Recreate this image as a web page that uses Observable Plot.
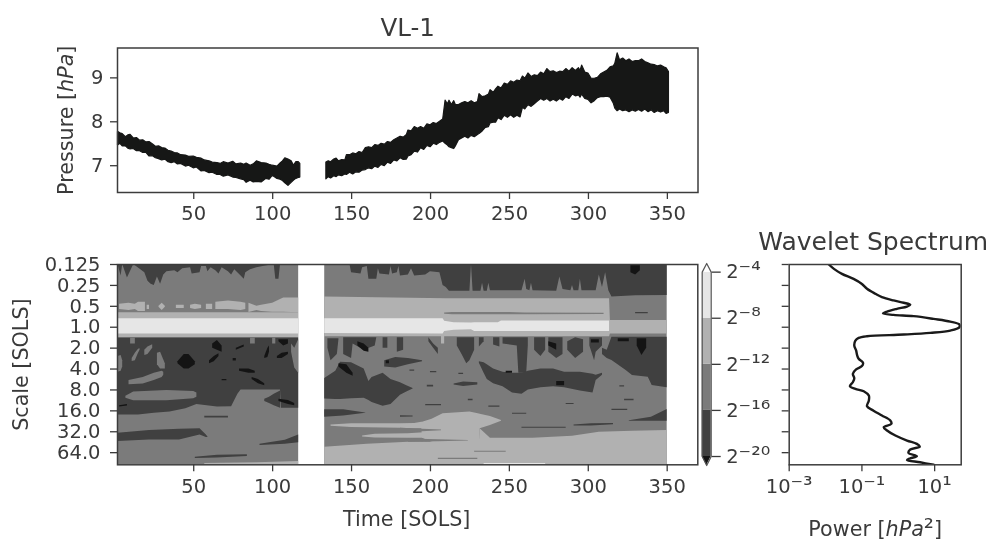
<!DOCTYPE html>
<html><head><meta charset="utf-8">
<script src="https://cdn.jsdelivr.net/npm/d3@7"></script>
<script src="https://cdn.jsdelivr.net/npm/@observablehq/plot@0.6"></script>
<style>
html,body{margin:0;padding:0;background:#fff}
#chart{position:relative;width:990px;height:541px;overflow:hidden;filter:blur(0.45px)}
#chart svg{position:absolute;background:transparent}
</style></head><body><div id="chart"></div>
<script>
const title="VL-1", spectrumTitle="Wavelet Spectrum";
const solTicks=[50,100,150,200,250,300,350];
const pressureTicks=[7,8,9];
const scaleTicks=[0.125,0.25,0.5,1,2,4,8,16,32,64];
const scaleLabels=["0.125","0.25","0.5","1.0","2.0","4.0","8.0","16.0","32.0","64.0"];
const shades=["#141414","#404040","#7b7b7b","#b1b1b1","#e6e6e6"];
const colorbarStops=[-20,-16,-12,-8,-4];
const colorbarLabels=["2⁻²⁰","2⁻¹⁶","2⁻¹²","2⁻⁸","2⁻⁴"];
const powerTicks=[1e-3,1e-1,1e1];
const powerLabels=["10⁻³","10⁻¹","10¹"];

// pressure envelope: [sol, high, low]
const pressureA=[[2,7.77,7.46],[3.5,7.74,7.50],[5,7.72,7.44],[7,7.65,7.44],[8.5,7.69,7.39],[10,7.70,7.37],[12,7.62,7.38],[14,7.63,7.33],[16,7.57,7.33],[18,7.58,7.29],[20,7.53,7.29],[22,7.54,7.21],[24,7.49,7.22],[26,7.43,7.17],[28,7.44,7.15],[30,7.40,7.12],[32,7.39,7.14],[34,7.34,7.08],[36,7.32,7.06],[38,7.29,7.08],[40,7.28,7.03],[42,7.24,7.04],[45,7.23,6.98],[47,7.20,7.00],[50,7.21,6.94],[52,7.18,6.96],[55,7.16,6.87],[57,7.12,6.88],[60,7.10,6.83],[62,7.07,6.84],[65,7.06,6.79],[67,7.04,6.79],[69,7.08,6.75],[72,7.05,6.78],[75,7.09,6.73],[77,7.03,6.72],[80,7.05,6.69],[82,7.02,6.67],[83.5,7.05,6.61],[86,7.00,6.66],[88,7.03,6.62],[90,7.10,6.63],[93,7.06,6.62],[96,7.05,6.70],[98,7.02,6.68],[100,7.00,6.77],[103,6.98,6.70],[105,7.05,6.68],[106.5,7.10,6.65],[108,7.17,6.60],[110,7.14,6.54],[112,7.10,6.61],[113.5,7.00,6.66],[115,7.08,6.70],[116.5,7.08,6.72],[117.5,7.04,6.73]];
const pressureB=[[134,7.07,6.69],[135.5,7.10,6.74],[137,7.08,6.71],[139,7.14,6.76],[140.5,7.16,6.74],[142,7.10,6.78],[144,7.13,6.76],[146,7.12,6.80],[147,7.24,6.79],[149,7.24,6.84],[151,7.28,6.80],[153,7.26,6.85],[155,7.31,6.84],[157,7.29,6.89],[159,7.40,6.90],[161,7.42,6.94],[163,7.40,6.92],[165,7.47,6.98],[167,7.45,6.95],[169,7.50,7.02],[171,7.48,6.99],[173,7.54,7.07],[175,7.52,7.04],[177,7.58,7.12],[179,7.62,7.10],[181,7.66,7.17],[183,7.64,7.13],[185,7.70,7.14],[186,7.80,7.21],[188,7.78,7.24],[190,7.88,7.32],[192,7.84,7.30],[194,7.88,7.40],[196,7.84,7.36],[198,7.94,7.45],[200,7.92,7.42],[202,7.97,7.50],[204,7.95,7.47],[206,8.0,7.52],[208,8.05,7.55],[209.5,8.48,7.50],[211,8.40,7.46],[212,8.48,7.42],[213.5,8.38,7.40],[215,8.47,7.38],[216,8.38,7.44],[218,8.38,7.58],[220,8.42,7.62],[222,8.45,7.66],[224,8.42,7.62],[226,8.47,7.68],[228,8.42,7.65],[230,8.45,7.70],[231,8.63,7.72],[233,8.56,7.78],[235,8.58,7.86],[237,8.62,7.88],[238,8.72,7.96],[240,8.66,7.98],[241.5,8.74,7.98],[243,8.80,8.08],[245,8.76,8.04],[247,8.87,8.14],[249,8.84,8.09],[251,8.92,8.15],[253,8.89,8.09],[255,8.94,8.14],[257,8.92,8.10],[258.5,9.03,8.32],[260,8.98,8.28],[262,9.10,8.38],[264,9.02,8.34],[266,9.06,8.40],[268,9.04,8.46],[270,9.12,8.52],[272,9.08,8.48],[274,9.20,8.52],[276,9.13,8.46],[278,9.15,8.50],[280,9.11,8.46],[282,9.14,8.52],[284,9.13,8.48],[286,9.20,8.56],[288,9.14,8.52],[290,9.22,8.62],[292,9.16,8.58],[294,9.22,8.60],[295,9.16,8.55],[296,9.28,8.62],[298,9.12,8.52],[300,9.10,8.50],[302,8.98,8.42],[304,8.98,8.47],[306,9.0,8.54],[308,9.08,8.56],[310,9.12,8.56],[312,9.16,8.57],[314,9.24,8.55],[316,9.26,8.42],[317,9.32,8.30],[318.5,9.56,8.24],[320,9.40,8.28],[322,9.44,8.24],[324,9.38,8.26],[326,9.42,8.22],[328,9.36,8.26],[330,9.38,8.23],[332,9.38,8.27],[334,9.42,8.23],[336,9.36,8.28],[338,9.33,8.22],[340,9.30,8.26],[342,9.29,8.20],[344,9.26,8.24],[346,9.28,8.21],[348,9.24,8.24],[349.5,9.22,8.18],[351,9.13,8.20]];

// global spectrum: log2 scale and log10 power
const spectrumLog2=[-3,-2.79,-2.55,-2.31,-2.07,-1.84,-1.60,-1.44,-1.28,-1.17,-1.07,-0.99,-0.88,-0.75,-0.66,-0.59,-0.53,-0.40,-0.27,-0.13,0,0.16,0.27,0.35,0.43,0.51,0.64,0.88,1.11,1.35,1.51,1.70,1.86,2.02,2.23,2.44,2.63,2.82,2.95,3.06,3.27,3.51,3.78,3.99,4.22,4.46,4.62,4.78,4.94,5.18,5.42,5.58,5.71,5.85,6.01,6.17,6.27,6.35,6.46,6.58];
const spectrumLog10=[-1.91,-1.77,-1.55,-1.23,-1.00,-.86,-.63,-.45,-.13,.15,.33,.24,-.04,-.31,-.42,-.13,.42,.97,1.43,1.68,1.68,1.43,.88,.15,-.86,-1.09,-1.18,-1.21,-1.16,-1.13,-1.09,-.97,-1.0,-1.16,-1.25,-1.21,-1.25,-1.33,-1.18,-.95,-.81,-.81,-.86,-.68,-.45,-.22,-.19,-.40,-.31,-.08,.24,.51,.59,.33,.28,.51,.33,.24,.60,.97];

// wavelet power regions, painted in order: [level, [[sol, log2 scale top, log2 scale bottom], ...]]
const regionsLeft=[
[2,[[2,-3,6.58],[116.5,-3,6.58]]],
[1,[[2,-3,-3],[4,-3,-2.45],[5,-3,-3],[8,-3,-2.35],[12,-3,-3],[19,-3,-2.6],[21,-3,-2.2],[23,-3,-2.05],[25,-3,-2.0],[27,-3,-2.4],[29,-3,-2.05],[31,-3,-2.5],[33,-3,-2.65],[38,-3,-2.7],[40,-3,-2.6],[43,-3,-2.8],[48,-3,-2.85],[49,-3,-2.55],[54,-3,-2.6],[55,-3,-2.9],[58,-3,-2.9],[59,-3,-2.65],[61,-3,-2.85],[64,-3,-2.7],[66,-3,-2.55],[68,-3,-2.85],[72,-3,-2.65],[74,-3,-2.5],[76,-3,-2.75],[80,-3,-2.45],[82,-3,-2.3],[83,-3,-2.6],[86,-3,-2.75],[90,-3,-2.85],[94,-3,-2.9],[101,-3,-3],[102,-3,-2.3],[104,-3,-2.3],[105,-3,-3]]],
[3,[[3,-1.1,-.85],[9,-1.15,-.8],[13,-1.1,-.85],[15,-1.2,-.75],[19.4,-1.2,-.75]]],
[3,[[20.5,-1.05,-.85],[22,-1.05,-.85]]],
[3,[[28,-1,-.95],[30,-1.15,-.8],[32,-1,-.95]]],
[3,[[39,-1.05,-.9],[44,-1.05,-.9]]],
[3,[[48,-1.05,-.9],[51,-1.1,-.85],[55,-1.05,-.9]]],
[3,[[58,-1.1,-.85],[62,-1.1,-.85]]],
[3,[[64,-1.2,-.85],[72,-1.25,-.85],[80,-1.2,-.8],[83,-1.15,-.85]]],
[3,[[85,-1.15,-.7],[90,-1,-.8],[93,-1.05,-.75],[100,-1.15,-.72],[107,-1.4,-.72],[116.5,-1.4,-.69]]],
[3,[[2,-.69,.52],[116.5,-.69,.52]]],
[4,[[2,-.4,.32],[116.5,-.4,.32]]],
[1,[[2,.52,4.2],[15,.52,4.2],[25,.52,4.12],[35,.52,4.05],[45,.52,3.9],[52,.52,3.7],[65,.52,3.82],[74,.52,3.8],[76,.52,3.5],[78,.52,3.2],[80,.52,3],[105,.52,3],[105.5,.52,3.87],[116.5,.52,3.87]]],
[1,[[95,3.45,3.55],[98,3.35,3.65],[101,3.2,3.75],[105,3.05,3.87]]],
[2,[[2,1.4,2.15],[4,1.35,2.1],[5,1.6,1.9]]],
[2,[[11,1.5,1.64],[13,1.25,1.6],[15,1.05,1.25],[16,1.03,1.1]]],
[2,[[19,1.1,1.35],[21,.95,1.3],[24,.84,1.0]]],
[2,[[27,1.25,1.8],[29,1.2,2],[32,1.75,2]]],
[2,[[9,2.55,2.75],[18,2.4,2.72],[25,2.2,2.55],[30,2.1,2.4],[31,2.15,2.3]]],
[2,[[7,3.3,3.4],[12,3.1,3.52],[33,3.03,3.52],[50,3.07,3.42],[52,3.15,3.35]]],
[2,[[10,.52,.8],[13,.52,.8]]],
[2,[[86,.52,.8],[89,.52,.8]]],
[2,[[100,.52,.8],[102,.52,.8]]],
[2,[[112,.8,1.2],[114,1,1.95],[116.5,.6,2.2]]],
[0,[[40,1.65,1.75],[44,1.3,2],[47,1.3,2],[51,1.65,1.8]]],
[0,[[62,.8,1],[65,.64,1.1],[68,.9,1.2]]],
[0,[[60,1.6,1.75],[63,1.4,1.65],[66,1.27,1.4]]],
[0,[[77,1,1.1],[82,.85,.95]]],
[0,[[95,1.4,1.5],[97,1,1.45],[98,.9,1.2]]],
[0,[[104,.6,.7],[107,.6,.9],[110,.6,.8]]],
[0,[[103,1.4,1.5],[106,1.25,1.5],[110,1.2,1.3]]],
[0,[[79,2,2.1],[85,2,2.2],[89,2.1,2.2]]],
[0,[[87,2.4,2.5],[91,2.5,2.7],[95,2.7,2.8]]],
[0,[[104,3.45,3.55],[110,3.5,3.7],[114,3.65,3.75]]],
[0,[[3,3.75,3.82],[8,3.7,3.77]]],
[0,[[68,2.5,2.56],[71,2.5,2.56]]],
[0,[[75,1.5,1.62],[77,1.5,1.62]]],
[1,[[57,4.26,4.34],[72,4.26,4.34]]],
[1,[[2,5.07,5.47],[22,4.94,5.39],[41,4.88,5.39],[54,4.86,5.15],[58,5.15,5.27],[59,5.25,5.27]]],
[1,[[92,5.6,5.66],[108,5.4,5.6],[116.5,5.15,5.53]]],
[1,[[51,6.22,6.28],[65,6.12,6.25],[84,6.1,6.18]]],
[3,[[57,6.52,6.58],[90,6.48,6.58],[116.5,6.42,6.58]]]
];
const regionsRight=[
[2,[[133,-3,6.58],[350,-3,6.58]]],
[3,[[133,5.74,6.58],[160,5.6,6.58],[186,5.5,6.58],[231,5.5,6.58],[231.5,4.86,6.58],[238,5.31,6.58],[265,5.31,6.58],[290,5.21,6.58],[307,5.02,6.58],[328,4.97,6.58],[350,4.94,6.58]]],
[3,[[137,4.68,4.74],[150,4.62,4.8],[181,4.62,4.83],[190,4.6,4.85],[194.5,4.55,4.85],[195,4.55,5.31],[201,4.4,5.5],[208,4.14,5.6],[225,4.06,5.6],[231,4.15,5.6],[231.5,4.16,4.86],[238,4.27,4.7],[245,4.46,4.5]]],
[3,[[157,5.2,5.25],[165,5.12,5.3],[186,5.1,5.31],[196,5.05,5.31]]],
[2,[[181,4.83,5.05],[195,4.88,5],[207,4.92,4.95]]],
[2,[[186,5.35,5.5],[205,5.38,5.48],[224,5.42,5.44]]],
[2,[[228,5.93,5.98],[248,5.93,5.98]]],
[2,[[205,6.27,6.33],[230,6.27,6.33]]],
[4,[[234,6.52,6.58],[273,6.52,6.58]]],
[1,[[133,-3,-3],[149,-3,-3],[150,-3,-2.6],[156,-3,-2.55],[157,-3,-2.85],[160,-3,-2.9],[161,-3,-2.3],[166,-3,-2.3],[167,-3,-2.8],[168,-3,-2.55],[174,-3,-2.5],[175,-3,-2.9],[176,-3,-2.55],[179,-3,-2.6],[180,-3,-2.9],[181,-3,-2.45],[186,-3,-2.5],[188,-3,-2.8],[190,-3,-2.45],[197,-3,-2.5],[200,-3,-2.65],[206,-3,-2.6],[208,-3,-2],[210,-3,-1.9],[212,-3,-1.72],[225,-3,-1.72],[226,-3,-3],[227,-3,-1.72],[232,-3,-1.72],[233,-3,-2.1],[234,-3,-1.72],[236,-3,-1.72],[237,-3,-2.1],[238,-3,-1.75],[258,-3,-1.75],[260,-3,-2.3],[261,-3,-1.8],[263,-3,-1.75],[264,-3,-2.1],[265,-3,-1.75],[280,-3,-1.72],[282,-3,-2.4],[284,-3,-1.8],[289,-3,-1.75],[290,-3,-2],[291,-3,-1.75],[294,-3,-1.75],[295,-3,-2.3],[296,-3,-1.75],[305,-3,-1.75],[307,-3,-2.5],[309,-3,-1.9],[311,-3,-2.6],[313,-3,-1.75],[315,-3,-1.44],[330,-3,-1.5],[350,-3,-1.52]]],
[0,[[327,-3,-2.6],[330,-3,-2.5],[333,-3,-2.7]]],
[3,[[133,-1.44,.45],[210,-1.36,.45],[313.5,-1.36,.45],[314,-.32,.32],[350,-.32,.32]]],
[3,[[207,.4,.8],[209,.4,.8]]],
[2,[[209,-.68,-.62],[214,-.7,-.6],[250,-.7,-.6],[260,-.68,-.6],[310,-.67,-.61]]],
[1,[[330,-.7,-.65],[338,-.71,-.64]]],
[4,[[133,-.4,.3],[208,-.4,.32],[209,-.28,.2],[215,-.22,.15],[226,-.2,.12],[228,-.22,.2],[243,-.22,.2],[245,-.3,.2],[313.5,-.3,.2]]],
[1,[[133,2.45,3.43],[140,2.1,3.46],[143,1.67,3.46],[150,1.7,3.42],[158,2,3.4],[161,2.6,3.5],[163,2.4,3.6],[170,2.2,3.78],[175,2.5,3.7],[181,2.65,3.25],[185,2.8,3.1],[189,2.93,2.95]]],
[1,[[135,.55,1],[137,.55,1.6],[141,.55,1.3],[142,.55,.6]]],
[1,[[145,.5,1.3],[150,.5,1.5],[151,.5,.8],[158,.5,1.1],[165,.5,.9],[166,.5,.5]]],
[0,[[154,.7,.9],[158,.8,1.15],[161,1,1.2]]],
[0,[[142,1.75,1.9],[147,1.8,2.2],[151,2.2,2.35]]],
[1,[[170,.5,1],[173,.5,1]]],
[1,[[179,.5,1.2],[183,.5,1.1]]],
[1,[[171,1.6,1.9],[178,1.45,1.95],[186,1.5,1.8],[195,1.6,1.65]]],
[0,[[172,1.6,1.75],[174,1.6,1.75]]],
[1,[[199,.5,.7],[202,.8,1],[205,1,1.3]]],
[1,[[217,.5,.9],[220,.5,1.3],[223,.5,1.75],[225,.5,1.6],[228,.5,1.1]]],
[1,[[231,.5,.95],[234,.5,.7]]],
[1,[[240,.5,.85],[244,.5,.95]]],
[1,[[246,.5,.8],[255,.5,.9],[256,.5,2.2],[261,.5,2.2],[262,.5,.9]]],
[1,[[266,.5,1.1],[270,.5,1.4],[273,.5,1.1]]],
[1,[[275,.5,1.2],[280,.5,1.5],[284,.5,1.3]]],
[1,[[287,.7,1.1],[292,.5,1.5],[297,.6,1.2]]],
[1,[[301,.5,.9],[304,.5,1.6],[305,.5,1.2],[309,.5,.9]]],
[1,[[231,1.65,1.72],[234,1.7,2.2],[236,1.8,2.5],[240,2,2.7],[246,2.15,2.85],[252,2.2,3.15],[258,2.2,3.2],[262,2.1,3],[270,2,2.9],[278,2,2.85],[285,2.15,2.9],[295,2.15,3.05],[303,2.25,3.15],[305,2.3,2.55],[309,2.2,2.3]]],
[1,[[309,1,1.3],[312,1.1,1.5],[315,.48,1.59],[324,.48,2.07],[328,.48,2.31],[338,.48,2.39],[340.5,.48,2.79],[350,.48,2.9]]],
[0,[[319,.55,.7],[326,.55,.7]]],
[0,[[331,.55,.9],[334,.55,1.35],[337,.55,1]]],
[0,[[275,.7,.9],[280,.8,1.1]]],
[0,[[302,.6,.75],[307,.6,.75]]],
[0,[[248,2.1,2.2],[252,2.1,2.2]]],
[0,[[280,2.6,2.8],[285,2.6,2.8]]],
[1,[[215,2.72,2.76],[221,2.62,2.83],[230,2.65,2.76]]],
[1,[[198,2.78,2.86],[202,2.78,2.86]]],
[1,[[224,3.44,3.52],[227,3.44,3.52]]],
[1,[[197,3.69,3.75],[207,3.69,3.75]]],
[1,[[237,3.77,3.83],[244,3.77,3.83]]],
[1,[[252,4.12,4.16],[261,4.12,4.16]]],
[1,[[286,3.65,3.7],[291,3.65,3.7]]],
[1,[[315,3.92,3.98],[325,3.92,3.98]]],
[1,[[323,3.45,3.52],[329,3.45,3.52]]],
[1,[[320,2.8,2.86],[323,2.8,2.86]]],
[1,[[181,4.23,4.31],[189,4.25,4.29]]],
[1,[[258,4.78,4.83],[286,4.78,4.83]]],
[1,[[291,4.68,4.72],[302,4.62,4.72],[316,4.6,4.66]]],
[1,[[326,4.47,4.5],[340,4.3,4.5],[350,3.94,4.5]]],
[1,[[200,2.12,2.18],[204,2.12,2.18]]],
[1,[[218,2.2,2.26],[221,2.2,2.26]]],
[1,[[187,2.04,2.1],[190,2.04,2.1]]],
[1,[[133,3.95,4.3],[145,3.95,4.25],[159,4.1,4.12]]]
];

const font="'DejaVu Sans'", ink="#3a3a3a", tickFont=19.5, labelFont=20.7;
const chart=document.getElementById("chart");
function place(plot,left,top){plot.style.left=left+"px";plot.style.top=top+"px";plot.style.maxWidth="none";chart.appendChild(plot);return plot;}
function polishText(svg){
  d3.select(svg).selectAll("text").each(function(){
    const host=this.querySelector("tspan")||this;
    if(host.children.length)return;
    const parts=host.textContent.split(/(hPa|[⁻⁰¹²³⁴⁸⁶]+)/).filter(s=>s!=="");
    if(parts.length<2)return;
    host.textContent="";
    const target=d3.select(host);
    for(const p of parts){
      const t=target.append("tspan").text(p);
      if(p==="hPa")t.attr("font-style","italic");
      else if(/^[⁻⁰¹²³⁴⁸⁶]+$/.test(p))t.attr("font-size","1.22em");
    }
  });
}
const style={fontFamily:font,fontSize:tickFont+"px",background:"transparent",overflow:"visible"};
const lbl=(text,o)=>Plot.text([text],{text:d=>d,fontSize:labelFont,fill:ink,...o});
const frame=Plot.frame({stroke:"#3c3c3c",strokeWidth:1.5});
const solDomain=[1.7,369.4];
const xAxis=()=>Plot.axisX(solTicks,{tickSize:7,tickPadding:7,label:null,color:ink,fontSize:tickFont,strokeWidth:1.3});

// top panel
const pressureRows=[...pressureA.map(d=>({seg:0,sol:d[0],high:d[1],low:d[2]})),...pressureB.map(d=>({seg:1,sol:d[0],high:d[1],low:d[2]}))];
const top1=Plot.plot({width:730,height:235,marginLeft:117,marginRight:32.5,marginTop:47.5,marginBottom:43,style,
  x:{domain:solDomain,label:null},y:{domain:[6.39,9.68],label:null},
  marks:[
    Plot.areaY(pressureRows,{x:"sol",y1:"low",y2:"high",z:"seg",fill:"#161716",stroke:"#161716",strokeWidth:1.2}),
    frame,xAxis(),
    Plot.axisY(pressureTicks,{tickSize:7,tickPadding:7,label:null,color:ink,fontSize:tickFont,strokeWidth:1.3}),
    lbl("Pressure [hPa]",{frameAnchor:"left",textAnchor:"middle",dx:-51,rotate:-90}),
    lbl(title,{frameAnchor:"top",dy:-29,fontSize:24.5})
  ]});
polishText(place(top1,0,0));

// wavelet panel
const flatten=(list,tag)=>list.flatMap((r,i)=>r[1].map(c=>({id:tag+i,level:r[0],sol:c[0],top:2**c[1]*1,bottom:2**c[2]*1})));
const regionRows=[...flatten(regionsLeft,"L"),...flatten(regionsRight,"R")];
const scaleDomain=[0.125,2**6.58];
const labelOf=d=>scaleLabels[scaleTicks.indexOf(d)];
const wave=Plot.plot({width:700,height:306,marginLeft:117,marginRight:2.7,marginTop:29,marginBottom:76.7,style,
  x:{domain:solDomain,label:null},
  y:{type:"log",base:2,domain:scaleDomain,reverse:true,label:null},
  color:{type:"ordinal",domain:[0,1,2,3,4],range:shades},
  marks:[
    Plot.areaY(regionRows,{x:"sol",y1:"top",y2:"bottom",z:"id",fill:"level",clip:true}),
    frame,xAxis(),
    Plot.axisY(scaleTicks,{tickSize:7,tickPadding:10,tickFormat:labelOf,label:null,color:ink,fontSize:tickFont,strokeWidth:1.3}),
    lbl("Time [SOLS]",{frameAnchor:"bottom",dx:-1,dy:61}),
    lbl("Scale [SOLS]",{frameAnchor:"left",textAnchor:"middle",dx:-96,rotate:-90})
  ]});
place(wave,0,235);

// colour bar
const bands=colorbarStops.slice(0,-1).map((lo,i)=>({lo,hi:colorbarStops[i+1],level:i+1}));
const capTop=[{x:0,a:-4,b:-4},{x:.5,a:-4,b:-3.25},{x:1,a:-4,b:-4}];
const capBottom=[{x:0,a:-20,b:-20},{x:.5,a:-20,b:-20.78},{x:1,a:-20,b:-20}];
const outline=[[0,-4],[.5,-3.25],[1,-4],[1,-20],[.5,-20.78],[0,-20],[0,-4]];
const bar=Plot.plot({width:83,height:306,marginLeft:4.7,marginRight:69.3,marginTop:28,marginBottom:76,style,
  x:{domain:[0,1],axis:null},
  y:{domain:[-20.78,-3.25],label:null},
  color:{type:"ordinal",domain:[0,1,2,3,4],range:shades},
  marks:[
    Plot.rect(bands,{x1:()=>0,x2:()=>1,y1:"lo",y2:"hi",fill:"level"}),
    Plot.areaY(capTop,{x:"x",y1:"a",y2:"b",fill:"#ffffff"}),
    Plot.areaY(capBottom,{x:"x",y1:"a",y2:"b",fill:"#141414"}),
    Plot.line(outline,{x:d=>d[0],y:d=>d[1],stroke:"#555",strokeWidth:1.2}),
    Plot.axisY(colorbarStops,{anchor:"right",tickSize:9,tickPadding:6,tickFormat:d=>colorbarLabels[colorbarStops.indexOf(d)],label:null,color:ink,fontSize:tickFont,strokeWidth:1.3})
  ]});
polishText(place(bar,697,235));

// spectrum
const spectrum=spectrumLog2.map((v,i)=>({scale:2**v,power:10**spectrumLog10[i]}));
const spec=Plot.plot({width:240,height:316,marginLeft:38.7,marginRight:29.3,marginTop:39,marginBottom:76.7,style,
  x:{type:"log",domain:[1e-3,10**1.73],label:null},
  y:{type:"log",base:2,domain:scaleDomain,reverse:true,label:null},
  marks:[
    Plot.line(spectrum,{x:"power",y:"scale",stroke:"#1a1a1a",strokeWidth:2.4,curve:"catmull-rom",clip:true}),
    frame,
    Plot.axisX(powerTicks,{tickSize:7,tickPadding:7,tickFormat:d=>powerLabels[powerTicks.indexOf(d)],label:null,color:ink,fontSize:tickFont,strokeWidth:1.3}),
    Plot.axisY(scaleTicks,{tickSize:7,text:null,tickFormat:()=>"",label:null,color:ink,strokeWidth:1.3}),
    lbl("Power [hPa²]",{frameAnchor:"bottom",dy:71}),
    lbl(spectrumTitle,{frameAnchor:"top",dx:-2,dy:-32,fontSize:25})
  ]});
polishText(place(spec,750,225));
</script></body></html>
